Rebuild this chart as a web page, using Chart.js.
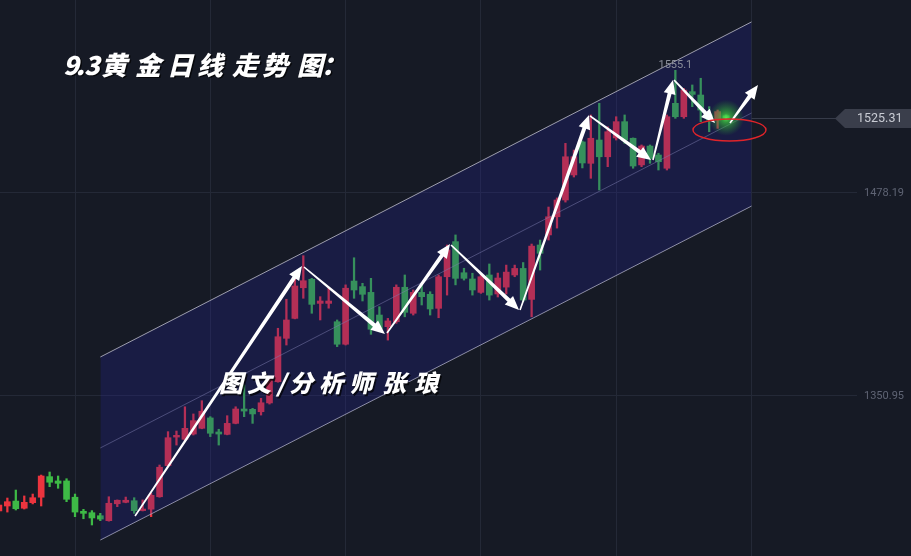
<!DOCTYPE html>
<html><head><meta charset="utf-8">
<script src="https://cdn.jsdelivr.net/npm/chart.js@4.4.1/dist/chart.umd.min.js"></script>
<style>html,body{margin:0;padding:0;background:#161a25;overflow:hidden}canvas{display:block}</style>
</head><body>
<canvas id="c" width="911" height="556"></canvas>
<script>
// ---- data ----
const dayIndex=[-9,-8,-7,-6,-5,-4,-3,-2,-1,0,1,2,3,4,5,6,7,8,9,10,11,12,13,14,15,16,17,18,19,20,21,22,23,24,25,26,27,28,29,30,31,32,33,34,35,36,37,38,39,40,41,42,43,44,45,46,47,48,49,50,51,52,53,54,55,56,57,58,59,60,61,62,63,64,65,66,67,68,69,70,71,72,73,74,75,76,77];
const openP=[1278.9,1282.0,1285.1,1280.6,1284.1,1287.5,1300.4,1297.7,1297.7,1287.5,1278.7,1277.8,1275.9,1272.8,1283.4,1284.3,1285.3,1279.1,1280.0,1287.8,1307.3,1325.2,1323.8,1327.1,1330.7,1337.2,1328.4,1326.9,1333.8,1342.8,1342.6,1341.1,1346.6,1359.9,1387.1,1399.6,1418.8,1424.1,1409.0,1409.0,1397.5,1383.4,1423.0,1419.5,1415.9,1401.7,1394.4,1397.5,1419.1,1402.8,1415.9,1414.7,1405.9,1425.7,1447.7,1428.2,1424.3,1415.9,1426.8,1414.9,1419.2,1426.8,1430.9,1411.5,1445.6,1451.9,1463.3,1473.8,1489.5,1510.2,1496.8,1511.4,1500.9,1512.7,1522.9,1512.5,1495.8,1507.6,1502.0,1493.7,1534.4,1526.0,1541.7,1539.6,1527.1,1524.0,1526.6];
const highP=[1285.8,1287.0,1292.0,1288.3,1289.5,1301.4,1303.3,1300.8,1299.1,1289.5,1279.9,1279.1,1277.4,1287.8,1285.8,1287.6,1287.2,1285.8,1290.0,1307.7,1328.6,1329.0,1344.2,1339.7,1348.0,1338.0,1330.1,1338.6,1344.2,1357.8,1343.2,1349.5,1362.0,1393.4,1411.6,1424.7,1438.9,1424.7,1413.2,1418.5,1398.6,1420.6,1437.6,1421.6,1424.7,1406.9,1399.6,1420.6,1426.8,1417.4,1420.6,1416.3,1426.8,1445.6,1451.9,1431.0,1427.9,1427.2,1433.7,1428.0,1433.0,1433.0,1434.6,1446.2,1448.7,1469.4,1475.1,1509.3,1505.1,1510.8,1527.1,1534.4,1519.7,1526.0,1527.1,1512.7,1508.3,1508.3,1503.1,1527.1,1555.1,1543.8,1545.9,1550.1,1532.3,1530.2,1527.1];
const lowP=[1277.6,1278.2,1279.5,1280.1,1283.3,1282.0,1294.1,1293.1,1284.7,1275.3,1274.0,1270.1,1272.8,1272.5,1281.6,1284.0,1277.4,1278.9,1275.3,1287.5,1307.0,1320.2,1322.9,1326.5,1330.4,1325.5,1320.2,1326.6,1333.5,1338.0,1333.8,1339.0,1345.9,1359.6,1382.9,1399.3,1412.2,1402.8,1398.6,1406.0,1381.9,1382.9,1412.2,1410.5,1389.6,1391.2,1386.0,1396.5,1400.6,1401.7,1408.0,1401.7,1400.0,1414.2,1420.6,1423.6,1414.2,1415.3,1411.1,1413.0,1414.9,1425.7,1410.1,1400.6,1429.9,1448.7,1456.2,1472.5,1488.2,1493.9,1487.4,1480.1,1494.7,1511.4,1509.3,1493.7,1494.7,1496.8,1492.6,1492.6,1525.0,1525.0,1532.3,1522.9,1516.6,1518.7,1524.5];
const closeP=[1282.6,1284.7,1280.3,1284.3,1287.2,1300.8,1296.9,1296.2,1286.2,1278.2,1277.4,1274.5,1273.8,1283.7,1285.6,1285.6,1279.1,1280.1,1288.7,1306.3,1324.8,1326.3,1330.7,1335.5,1341.4,1327.6,1327.1,1333.8,1342.8,1341.5,1339.7,1346.7,1361.0,1388.1,1398.6,1419.9,1423.2,1408.4,1410.5,1410.5,1383.4,1418.5,1417.4,1414.7,1392.8,1392.9,1398.0,1419.1,1403.4,1415.9,1413.2,1405.5,1425.7,1442.5,1424.7,1424.7,1417.4,1425.7,1414.2,1424.9,1428.6,1430.9,1411.1,1444.9,1440.4,1463.3,1473.8,1500.9,1500.9,1497.0,1512.5,1500.9,1516.6,1522.9,1511.4,1495.1,1507.6,1499.9,1497.8,1526.0,1526.0,1542.7,1540.0,1530.2,1524.0,1529.2,1525.31];
const yTickValues=[1350.95,1478.19];
const lastPrice=1525.31;
const peakLabel='1555.1';
const peakDay=71;
// channel (x in day index, y in price)
const channelX=[3,80];
const channelTop=[1375.4,1585.4];
const channelMid=[1318.4,1528.3];
const channelBottom=[1260.7,1470.0];
// drawn arrows: start/end in day index and price
const arrowFromX=[7.10,27.08,36.90,44.47,52.63,60.90,68.35,70.84,77.46];
const arrowFromY=[1275.7,1431.8,1390.4,1445.6,1404.9,1526.5,1498.9,1549.0,1522.1];
const arrowToX=[26.84,36.66,44.35,52.51,60.79,68.12,70.72,75.69,80.77];
const arrowToY=[1432.4,1389.8,1446.2,1404.9,1527.1,1498.9,1549.0,1522.1,1545.9];
const markCenter=[77.4,1517.7];
const titleText='9.3黄金日线走势图：';
const authorText='图文/分析师张琅';

// ---- build ----
const RED='rgb(236,52,62)', GREEN='rgb(62,186,70)';
const colors=dayIndex.map((d,i)=>closeP[i]>=openP[i]?RED:GREEN);
const wickData=dayIndex.map((d,i)=>({x:d,y:[lowP[i],highP[i]]}));
const bodyData=dayIndex.map((d,i)=>({x:d,y:[Math.min(openP[i],closeP[i]),Math.max(openP[i],closeP[i])]}));
const line=(arr)=>channelX.map((x,i)=>({x:x,y:arr[i]}));

function arrow(ctx,x1,y1,x2,y2){
  const dx=x2-x1,dy=y2-y1,L=Math.hypot(dx,dy),ux=dx/L,uy=dy/L,nx=-uy,ny=ux;
  const hl=14,hw=6,w0=0.8,w1=2.0;
  const bx=x2-ux*hl,by=y2-uy*hl;
  ctx.beginPath();
  ctx.moveTo(x1+nx*w0,y1+ny*w0);
  ctx.lineTo(bx+nx*w1,by+ny*w1);
  ctx.lineTo(bx+nx*hw,by+ny*hw);
  ctx.lineTo(x2,y2);
  ctx.lineTo(bx-nx*hw,by-ny*hw);
  ctx.lineTo(bx-nx*w1,by-ny*w1);
  ctx.lineTo(x1-nx*w0,y1-ny*w0);
  ctx.closePath();ctx.fill();
}
function drawSpaced(ctx,text,centers,y){
  [...text].forEach((ch,i)=>ctx.fillText(ch,centers[i],y));
}

const deco={
  id:'deco',
  beforeDraw(chart){const c=chart.ctx;c.save();c.fillStyle='#161a25';c.fillRect(0,0,chart.width,chart.height);c.restore();},
  afterDatasetsDraw(chart){
    const c=chart.ctx,xs=chart.scales.x,ys=chart.scales.y;
    c.save();
    // last price line + label
    const py=Math.round(ys.getPixelForValue(lastPrice))+0.5;
    const x0=xs.getPixelForValue(channelX[1]);
    c.strokeStyle='#363b49';c.lineWidth=1;
    c.beginPath();c.moveTo(x0,py);c.lineTo(836,py);c.stroke();
    c.fillStyle='#3a3e4b';
    c.beginPath();c.moveTo(835,py);c.lineTo(845,py-9.5);c.lineTo(911,py-9.5);c.lineTo(911,py+9.5);c.lineTo(845,py+9.5);c.closePath();c.fill();
    c.fillStyle='#c9ccd4';c.font='12.5px Roboto';c.textAlign='left';c.textBaseline='middle';
    c.fillText(lastPrice.toFixed(2),857,py+0.5);
    // peak label
    const pi=dayIndex.indexOf(peakDay);
    c.fillStyle='#8a8e9a';c.font='11px Roboto';c.textAlign='center';c.textBaseline='alphabetic';
    c.fillText(peakLabel,xs.getPixelForValue(peakDay),ys.getPixelForValue(highP[pi])-2);
    // glow on last candle
    const gx=xs.getPixelForValue(dayIndex[dayIndex.length-1]),gy=ys.getPixelForValue(closeP[closeP.length-1]);
    const g=c.createRadialGradient(gx,gy,0,gx,gy,18);
    g.addColorStop(0,'rgba(90,240,80,0.95)');g.addColorStop(0.25,'rgba(60,200,60,0.7)');g.addColorStop(1,'rgba(40,160,40,0)');
    c.fillStyle=g;c.beginPath();c.arc(gx,gy,18,0,Math.PI*2);c.fill();
    // arrows
    c.fillStyle='#ffffff';
    for(let i=0;i<arrowFromX.length;i++){
      arrow(c,xs.getPixelForValue(arrowFromX[i]),ys.getPixelForValue(arrowFromY[i]),xs.getPixelForValue(arrowToX[i]),ys.getPixelForValue(arrowToY[i]));
    }
    // red ellipse
    c.strokeStyle='#e0242a';c.lineWidth=1.4;
    c.beginPath();c.ellipse(xs.getPixelForValue(markCenter[0]),ys.getPixelForValue(markCenter[1]),36.5,11,0,0,Math.PI*2);c.stroke();
    // texts
    c.fillStyle='#ffffff';c.textAlign='center';c.textBaseline='middle';
    c.shadowColor='rgba(0,0,0,0.7)';c.shadowOffsetX=1.5;c.shadowOffsetY=1.5;c.shadowBlur=0;
    c.font='italic 900 26px "Noto Sans CJK SC"';
    drawSpaced(c,titleText,[71,80,92,114,148,180,210,245,275,310,334],65);
    c.font='italic 900 24px "Noto Sans CJK SC"';
    drawSpaced(c,authorText,[231,259,281,301,331,361,394,426],383);
    c.restore();
  }
};

new Chart(document.getElementById('c'),{
  type:'bar',
  data:{datasets:[
    {type:'bar',data:wickData,backgroundColor:colors,barThickness:1.6,grouped:false,order:2},
    {type:'bar',data:bodyData,backgroundColor:colors,barThickness:6,minBarLength:1.5,grouped:false,order:1},
    {type:'line',data:line(channelTop),borderColor:'rgba(190,190,204,0.8)',borderWidth:1,pointRadius:0,fill:4,backgroundColor:'rgba(35,35,150,0.28)',order:0},
    {type:'line',data:line(channelMid),borderColor:'rgba(160,160,185,0.5)',borderWidth:1,pointRadius:0,fill:false,order:0},
    {type:'line',data:line(channelBottom),borderColor:'rgba(190,190,204,0.8)',borderWidth:1,pointRadius:0,fill:false,order:0}
  ]},
  options:{
    responsive:false,animation:false,
    layout:{padding:0},
    plugins:{legend:{display:false},tooltip:{enabled:false},title:{display:false}},
    scales:{
      x:{type:'linear',min:-8.87,max:92.48,offset:false,
        grid:{color:'#242937',offset:false,drawTicks:false},border:{display:false},
        ticks:{display:false},
        afterBuildTicks:(s)=>{s.ticks=[0,16,32,48,64,80].map(v=>({value:v}));},
        afterFit:(s)=>{s.height=0;s.paddingLeft=0;s.paddingRight=0;}},
      y:{type:'linear',position:'right',min:1250.66,max:1599.16,
        grid:{color:'#242937',drawTicks:false},border:{display:false},
        afterBuildTicks:(s)=>{s.ticks=yTickValues.map(v=>({value:v}));},
        ticks:{color:'#5f6474',font:{family:'Roboto',size:11},padding:7,callback:(v)=>Number(v).toFixed(2)},
        afterFit:(s)=>{s.width=54;s.paddingTop=0;s.paddingBottom=0;}}
    }
  },
  plugins:[deco]
});
</script>
</body></html>
